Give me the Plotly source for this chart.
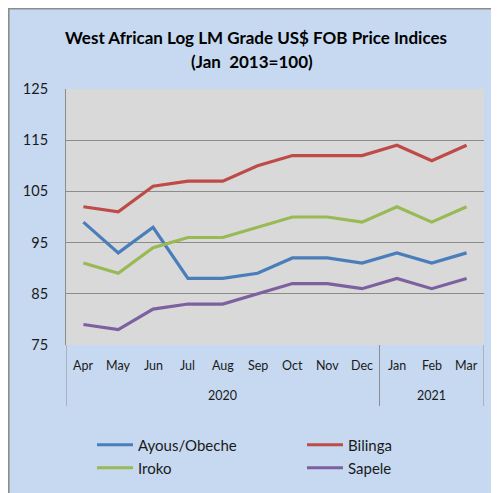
import plotly.graph_objects as go

months = ["Apr", "May", "Jun", "Jul", "Aug", "Sep", "Oct", "Nov", "Dec", "Jan", "Feb", "Mar"]
years = ["2020", "2021"]
year_spans = [(0, 8), (9, 11)]
ayous = [99, 93, 98, 88, 88, 89, 92, 92, 91, 93, 91, 93]
bilinga = [102, 101, 106, 107, 107, 110, 112, 112, 112, 114, 111, 114]
iroko = [91, 89, 94, 96, 96, 98, 100, 100, 99, 102, 99, 102]
sapele = [79, 78, 82, 83, 83, 85, 87, 87, 86, 88, 86, 88]
y_ticks = [75, 85, 95, 105, 115, 125]

# the page body adds an 8px margin; lay out in screen pixels and convert
OFF = 8
W, H = 499 - OFF, 493 - OFF
PL, PT, PR, PB = 66, 89, 484, 345          # plot area in screen pixels
L, T = PL - OFF, PT - OFF
R, B = W - (PR - OFF), H - (PB - OFF)
pw, ph = W - L - R, H - T - B

def px(xs):
    return (xs - OFF - L) / pw

def py(ys):
    return (H - B - (ys - OFF)) / ph

def cx(xs):
    return (xs - OFF) / W

def cy(ys):
    return 1 - (ys - OFF) / H

font = "Lato, 'Open Sans', sans-serif"
idx = list(range(len(months)))

series = [
    ("Ayous/Obeche", ayous, "#4A7EBB", "legend", 138, 445),
    ("Bilinga", bilinga, "#BE4B48", "legend2", 348, 445),
    ("Iroko", iroko, "#98B954", "legend3", 138, 468),
    ("Sapele", sapele, "#7D60A0", "legend4", 348, 468),
]

fig = go.Figure()
for name, vals, color, leg, _, _ in series:
    fig.add_trace(go.Scatter(x=idx, y=vals, mode="lines", name=name,
                             line=dict(color=color, width=3.2), legend=leg))

shapes = [
    dict(type="line", xref="paper", yref="paper", x0=px(8), x1=px(520), y0=py(8.6), y1=py(8.6),
         line=dict(color="#8C8C8C", width=2), layer="above"),
    dict(type="line", xref="paper", yref="paper", x0=px(8.6), x1=px(8.6), y0=py(8), y1=py(520),
         line=dict(color="#8C8C8C", width=2), layer="above"),
]
for x in [-0.5, 8.5, 11.5]:
    shapes.append(dict(type="line", xref="x", yref="paper", x0=x, x1=x, y0=0, y1=py(406),
                       line=dict(color="#8C8C8C", width=1)))

annotations = [
    dict(text="<b>West African Log LM Grade US$ FOB Price Indices</b>", x=px(255.5), y=py(37),
         xref="paper", yref="paper", xanchor="center", yanchor="middle", showarrow=False,
         font=dict(size=17, color="#000", family=font)),
    dict(text="<b>(Jan  2013=100)</b>", x=px(252), y=py(61),
         xref="paper", yref="paper", xanchor="center", yanchor="middle", showarrow=False,
         font=dict(size=17, color="#000", family=font)),
]
for i, m in enumerate(months):
    annotations.append(dict(text=m, x=i, y=py(365), xref="x", yref="paper", xanchor="center",
                            yanchor="middle", showarrow=False,
                            font=dict(size=12.5, color="#1a1a1a", family=font)))
for yr, (a, b) in zip(years, year_spans):
    annotations.append(dict(text=yr, x=(a + b) / 2, y=py(395), xref="x", yref="paper",
                            xanchor="center", yanchor="middle", showarrow=False,
                            font=dict(size=12.5, color="#1a1a1a", family=font)))

ITEMW = 36
legends = {}
for name, vals, color, leg, tx, ty in series:
    legends[leg] = dict(orientation="v", xref="container", yref="container",
                        x=cx(tx - ITEMW - 10), y=cy(ty), xanchor="left", yanchor="middle",
                        itemwidth=ITEMW, bgcolor="rgba(0,0,0,0)", borderwidth=0,
                        font=dict(size=15, color="#1a1a1a", family=font))

fig.update_layout(
    width=W, height=H,
    margin=dict(l=L, r=R, t=T, b=B, pad=0, autoexpand=False),
    paper_bgcolor="#C6D9F1",
    plot_bgcolor="#D9D9D9",
    shapes=shapes,
    annotations=annotations,
    xaxis=dict(range=[-0.5, 11.5], showticklabels=False, showgrid=False, zeroline=False,
               showline=False, ticks="", automargin=False, fixedrange=True),
    yaxis=dict(range=[75, 125], tickvals=y_ticks, showgrid=True, gridcolor="#8C8C8C", gridwidth=1,
               zeroline=False, showline=True, linecolor="#8C8C8C", linewidth=1, mirror=False,
               ticks="", ticklabelstandoff=14, automargin=False, fixedrange=True,
               tickfont=dict(size=14.5, color="#1a1a1a", family=font)),
    showlegend=True,
    **legends,
)

fig.write_html("out.html")
